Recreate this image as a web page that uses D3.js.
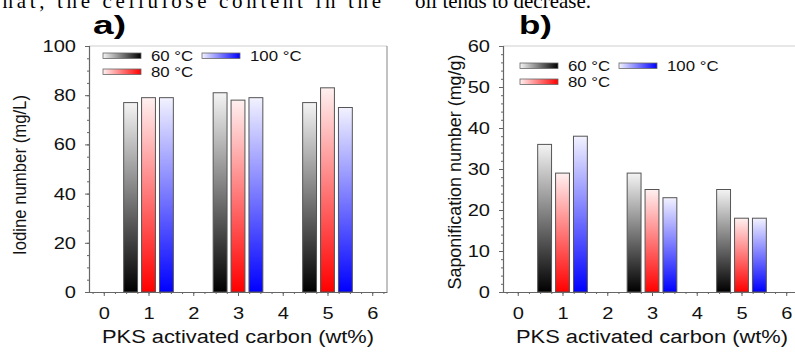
<!DOCTYPE html>
<html><head><meta charset="utf-8">
<script src="https://cdn.jsdelivr.net/npm/d3@7"></script>
<style>body{margin:0;background:#fff;}svg{display:block;}</style>
</head><body>
<svg id="c" width="795" height="352"></svg>
<script>
const categories = [1, 3, 5];
const seriesNames = ["60 °C", "80 °C", "100 °C"];
const iodine60 = [77, 81, 77];
const iodine80 = [79, 78, 83];
const iodine100 = [79, 79, 75];
const sapon60 = [36, 29, 25];
const sapon80 = [29, 25, 18];
const sapon100 = [38, 23, 18];
const xTicks = [0, 1, 2, 3, 4, 5, 6];
const iodineTicks = [0, 20, 40, 60, 80, 100];
const saponTicks = [0, 10, 20, 30, 40, 50, 60];

const svg = d3.select("#c");
const font = "'Liberation Sans', Arial, sans-serif";
const colors = ["#000000", "#ff0000", "#0000ff"];
const lights = ["#f4f4f4", "#fff0f0", "#f2f2ff"];

function stretch(sel, f) {
  sel.each(function () {
    const L = this.getComputedTextLength();
    d3.select(this).attr("textLength", L * f).attr("lengthAdjust", "spacingAndGlyphs");
  });
}

const defs = svg.append("defs");
colors.forEach((c, i) => {
  const g = defs.append("linearGradient").attr("id", "gv" + i)
    .attr("x1", 0).attr("y1", 0).attr("x2", 0).attr("y2", 1);
  g.append("stop").attr("offset", "0%").attr("stop-color", lights[i]);
  g.append("stop").attr("offset", "100%").attr("stop-color", c);
  const h = defs.append("linearGradient").attr("id", "gh" + i)
    .attr("x1", 0).attr("y1", 0).attr("x2", 1).attr("y2", 0);
  h.append("stop").attr("offset", "0%").attr("stop-color", lights[i]);
  h.append("stop").attr("offset", "100%").attr("stop-color", c);
});

// clipped body text from the page above
svg.append("text").attr("x", -7).attr("y", 8).attr("font-family", "'Liberation Serif', 'Times New Roman', serif")
  .attr("font-size", 21).attr("textLength", 388).attr("lengthAdjust", "spacing")
  .text("that, the cellulose content in the");
svg.append("text").attr("x", 415).attr("y", 8).attr("font-family", "'Liberation Serif', 'Times New Roman', serif")
  .attr("font-size", 21).attr("textLength", 176).attr("lengthAdjust", "spacingAndGlyphs")
  .text("oil tends to decrease.");

function panel(opt) {
  const g = svg.append("g");
  const x = d3.scaleLinear().domain([-0.33, 6.33]).range([opt.left, opt.left + 298]);
  const y = d3.scaleLinear().domain([0, opt.ymax]).range([292, 46]);
  const bw = x(0.31) - x(0);
  const offs = [-0.4, 0, 0.4];

  g.append("line").attr("x1", x.range()[0]).attr("x2", x.range()[1]).attr("y1", 46).attr("y2", 46)
    .attr("stroke", "#d0d0d0").attr("stroke-width", 1.2);
  g.append("line").attr("x1", x.range()[1]).attr("x2", x.range()[1]).attr("y1", 46).attr("y2", 292)
    .attr("stroke", "#9a9a9a").attr("stroke-width", 1.2);

  opt.series.forEach((vals, si) => {
    g.selectAll(null).data(categories.map((c, i) => ({c, v: vals[i]}))).join("rect")
      .attr("x", d => x(d.c + offs[si]) - bw / 2)
      .attr("y", d => y(d.v))
      .attr("width", bw)
      .attr("height", d => y(0) - y(d.v))
      .attr("fill", `url(#gv${si})`)
      .attr("stroke", "#555").attr("stroke-width", 1);
  });

  g.append("g").attr("transform", `translate(${opt.left},0)`)
    .call(d3.axisLeft(y).tickValues(opt.yticks).tickSize(4).tickPadding(9).tickFormat(d3.format("d")));
  const yminor = d3.range(0, opt.ymax + 0.001, opt.yminor);
  g.append("g").attr("transform", `translate(${opt.left},0)`)
    .call(d3.axisLeft(y).tickValues(yminor).tickSize(2).tickFormat(""))
    .call(s => s.select(".domain").remove());
  g.append("g").attr("transform", "translate(0,292)")
    .call(d3.axisBottom(x).tickValues(xTicks).tickSize(4).tickPadding(11).tickSizeOuter(0).tickFormat(d3.format("d")));
  const xminor = d3.range(-0.25, 6.3, 0.25);
  g.append("g").attr("transform", "translate(0,292)")
    .call(d3.axisBottom(x).tickValues(xminor).tickSize(2).tickFormat(""))
    .call(s => s.select(".domain").remove());
  g.selectAll(".domain").attr("stroke", "#666").attr("stroke-width", 1.2);
  g.selectAll(".tick line").attr("stroke", "#666");
  const tt = g.selectAll(".tick text").attr("font-family", font).attr("font-size", 17).attr("fill", "#111");
  stretch(tt, 1.18);

  g.append("text").attr("transform", `translate(${opt.ytx},${opt.yty}) rotate(-90)`)
    .attr("text-anchor", "middle").attr("font-family", font).attr("font-size", 18).attr("fill", "#111")
    .attr("textLength", opt.ylen).attr("lengthAdjust", "spacingAndGlyphs")
    .text(opt.ytitle);
  g.append("text").attr("x", x(3)).attr("y", 343).attr("text-anchor", "middle")
    .attr("font-family", font).attr("font-size", 18).attr("fill", "#111")
    .attr("textLength", 272).attr("lengthAdjust", "spacingAndGlyphs")
    .text("PKS activated carbon (wt%)");
  g.append("text").attr("x", opt.lx).attr("y", 34).attr("font-family", font)
    .attr("font-size", 25).attr("font-weight", "bold")
    .attr("textLength", 33).attr("lengthAdjust", "spacingAndGlyphs").text(opt.label);

  const lg = [[0, 0], [0, 1], [1, 0]];
  seriesNames.forEach((n, i) => {
    const cx = opt.legX + lg[i][0] * 99;
    const cy = opt.legY + lg[i][1] * 16;
    g.append("rect").attr("x", cx).attr("y", cy - 3).attr("width", 38).attr("height", 5.5)
      .attr("fill", `url(#gh${i})`).attr("stroke", "#666").attr("stroke-width", 0.8);
    const t = g.append("text").attr("x", cx + 48).attr("y", cy + 5).attr("font-family", font)
      .attr("font-size", 15).attr("fill", "#111").text(n);
    stretch(t, 1.12);
  });
}

panel({left: 89, ymax: 100, yticks: iodineTicks, yminor: 5,
  series: [iodine60, iodine80, iodine100], ytitle: "Iodine number (mg/L)", ytx: 26, yty: 175, ylen: 160,
  label: "a)", lx: 93, legX: 103, legY: 56});
panel({left: 503, ymax: 60, yticks: saponTicks, yminor: 2,
  series: [sapon60, sapon80, sapon100], ytitle: "Saponification number (mg/g)", ytx: 461, yty: 172, ylen: 235,
  label: "b)", lx: 519, legX: 520, legY: 66});
</script>
</body></html>
